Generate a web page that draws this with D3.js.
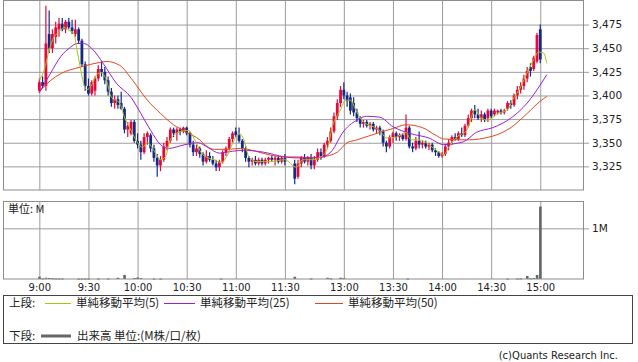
<!DOCTYPE html>
<html>
<head>
<meta charset="utf-8">
<script src="https://cdn.jsdelivr.net/npm/d3@7"></script>
<style>
body { margin: 0; background: #fff; }
text { font-family: "DejaVu Sans", sans-serif; fill: #222; }
.jp { font-family: "Noto Sans CJK JP", sans-serif; }
</style>
</head>
<body>
<svg id="chart" width="638" height="362"></svg>
<script>
// 2-minute candles: time, open, high, low, close
var candles = [
  ["09:00",3405,3418,3403,3414],["09:02",3414,3420,3408,3410],["09:04",3410,3495,3405,3455],
  ["09:06",3465,3490,3445,3450],["09:08",3450,3470,3445,3465],["09:10",3462,3478,3455,3472],
  ["09:12",3470,3482,3462,3476],["09:14",3476,3482,3468,3470],["09:16",3470,3480,3466,3478],
  ["09:18",3478,3482,3470,3472],["09:20",3472,3480,3465,3468],["09:22",3465,3480,3462,3470],
  ["09:24",3470,3472,3455,3458],["09:26",3458,3460,3430,3433],["09:28",3433,3436,3405,3410],
  ["09:30",3410,3418,3400,3402],["09:32",3402,3416,3400,3414],["09:34",3405,3420,3400,3418],
  ["09:36",3418,3432,3415,3428],["09:38",3428,3436,3420,3425],["09:40",3425,3430,3412,3416],
  ["09:42",3416,3420,3400,3404],["09:44",3404,3408,3388,3392],["09:46",3392,3400,3386,3396],
  ["09:48",3396,3400,3386,3390],["09:50",3392,3404,3385,3386],["09:52",3386,3388,3360,3364],
  ["09:54",3364,3372,3356,3368],["09:56",3360,3374,3358,3372],["09:58",3372,3374,3350,3352],
  ["10:00",3352,3360,3344,3348],["10:02",3348,3352,3332,3340],["10:04",3340,3360,3338,3356],
  ["10:06",3356,3362,3348,3360],["10:08",3358,3360,3340,3344],["10:10",3344,3348,3330,3334],
  ["10:12",3334,3338,3314,3326],["10:14",3326,3336,3320,3332],["10:16",3332,3350,3330,3346],
  ["10:18",3346,3356,3342,3352],["10:20",3352,3366,3350,3364],["10:22",3364,3366,3356,3360],
  ["10:24",3360,3366,3352,3364],["10:26",3364,3366,3358,3362],["10:28",3362,3367,3360,3366],
  ["10:30",3366,3367,3358,3360],["10:32",3360,3362,3345,3348],["10:34",3348,3352,3336,3340],
  ["10:36",3340,3348,3336,3344],["10:38",3344,3346,3334,3338],["10:40",3338,3340,3326,3330],
  ["10:42",3330,3342,3328,3336],["10:44",3336,3340,3330,3332],["10:46",3332,3336,3326,3328],
  ["10:48",3328,3332,3320,3324],["10:50",3324,3332,3320,3330],["10:52",3330,3342,3328,3340],
  ["10:54",3340,3346,3336,3344],["10:56",3344,3356,3342,3354],["10:58",3354,3362,3350,3360],
  ["11:00",3362,3366,3356,3358],["11:02",3358,3366,3350,3352],["11:04",3352,3354,3340,3344],
  ["11:06",3344,3346,3330,3334],["11:08",3334,3336,3324,3330],["11:10",3330,3334,3326,3332],
  ["11:12",3332,3336,3326,3328],["11:14",3328,3334,3326,3332],["11:16",3332,3334,3326,3328],
  ["11:18",3328,3334,3326,3332],["11:20",3332,3335,3328,3334],["11:22",3334,3336,3330,3332],
  ["11:24",3332,3336,3326,3334],["11:26",3334,3336,3328,3330],["11:28",3330,3336,3328,3334],
  ["11:30",3334,3338,3326,3330],
  ["12:30",3328,3332,3306,3312],["12:32",3314,3332,3312,3328],["12:34",3328,3336,3324,3334],
  ["12:36",3334,3338,3328,3330],["12:38",3330,3336,3326,3334],["12:40",3334,3338,3322,3326],
  ["12:42",3326,3336,3322,3332],["12:44",3332,3344,3330,3340],["12:46",3340,3344,3332,3336],
  ["12:48",3336,3350,3334,3348],["12:50",3348,3356,3344,3352],["12:52",3352,3366,3350,3362],
  ["12:54",3362,3382,3360,3378],["12:56",3378,3396,3374,3392],["12:58",3392,3410,3388,3406],
  ["13:00",3406,3414,3396,3400],["13:02",3400,3404,3388,3394],["13:04",3398,3402,3380,3384],
  ["13:06",3392,3398,3378,3382],["13:08",3382,3386,3372,3376],["13:10",3376,3378,3366,3370],
  ["13:12",3370,3374,3366,3372],["13:14",3372,3374,3366,3368],["13:16",3368,3372,3364,3370],
  ["13:18",3370,3372,3362,3364],["13:20",3364,3368,3360,3366],["13:22",3366,3368,3358,3362],
  ["13:24",3362,3364,3346,3350],["13:26",3350,3352,3340,3346],["13:28",3346,3358,3344,3356],
  ["13:30",3356,3362,3350,3360],["13:32",3360,3362,3352,3356],["13:34",3356,3360,3352,3358],
  ["13:36",3358,3360,3352,3354],["13:38",3354,3380,3352,3366],["13:40",3366,3368,3344,3346],
  ["13:42",3346,3350,3340,3344],["13:44",3344,3356,3342,3352],["13:46",3352,3362,3344,3348],
  ["13:48",3348,3352,3344,3350],["13:50",3350,3352,3344,3346],["13:52",3346,3350,3342,3348],
  ["13:54",3348,3350,3340,3342],["13:56",3342,3344,3336,3340],["13:58",3340,3341,3334,3336],
  ["14:00",3336,3340,3334,3338],["14:02",3338,3348,3336,3346],["14:04",3346,3354,3342,3350],
  ["14:06",3352,3358,3348,3356],["14:08",3356,3360,3352,3354],["14:10",3354,3362,3352,3360],
  ["14:12",3360,3366,3356,3358],["14:14",3358,3370,3356,3368],["14:16",3368,3380,3366,3376],
  ["14:18",3376,3386,3372,3384],["14:20",3384,3390,3376,3380],["14:22",3380,3386,3374,3376],
  ["14:24",3376,3384,3372,3380],["14:26",3380,3382,3372,3374],["14:28",3376,3386,3372,3384],
  ["14:30",3384,3386,3376,3378],["14:32",3380,3386,3378,3384],["14:34",3382,3385,3380,3384],
  ["14:36",3384,3386,3380,3382],["14:38",3382,3386,3380,3384],["14:40",3386,3394,3384,3392],
  ["14:42",3392,3395,3386,3390],["14:44",3390,3402,3388,3400],["14:46",3400,3410,3396,3406],
  ["14:48",3406,3414,3402,3410],["14:50",3410,3422,3406,3418],["14:52",3418,3430,3414,3426],
  ["14:54",3430,3434,3420,3426],["14:56",3428,3442,3426,3440],["14:58",3436,3466,3434,3464],
  ["15:00",3470,3475,3434,3438]
];

// moving averages: time, price
var ma5 = [
  ["09:00",3416],["09:03",3427],["09:06",3448],["09:09",3462],["09:12",3467],["09:15",3472],
  ["09:18",3469],["09:21",3466],["09:23",3448],["09:25",3430],["09:27",3413],["09:29",3406],
  ["09:32",3411],["09:35",3422],["09:38",3424],["09:41",3416],["09:44",3398],["09:49",3392],
  ["09:52",3377],["09:56",3363],["10:00",3350],["10:03",3345],["10:06",3350],["10:11",3339],
  ["10:14",3332],["10:17",3335],["10:20",3353],["10:25",3361],["10:31",3363],["10:35",3353],
  ["10:39",3339],["10:43",3334],["10:47",3332],["10:51",3329],["10:55",3337],["10:59",3353],
  ["11:02",3360],["11:05",3353],["11:08",3335],["11:13",3330],["11:21",3330],["11:30",3332],
  ["12:31",3324],["12:35",3332],["12:41",3332],["12:45",3334],["12:50",3344],["12:53",3367],
  ["12:58",3385],["13:01",3395],["13:04",3395],["13:08",3382],["13:12",3372],["13:18",3367],
  ["13:22",3363],["13:26",3355],["13:32",3356],["13:38",3361],["13:41",3353],["13:46",3353],
  ["13:52",3348],["13:58",3340],["14:01",3337],["14:04",3345],["14:09",3356],["14:15",3363],
  ["14:17",3372],["14:20",3385],["14:24",3376],["14:28",3374],["14:34",3381],["14:40",3385],
  ["14:43",3395],["14:48",3409],["14:52",3424],["14:56",3438],["14:59",3446],["15:02",3445],
  ["15:04",3434]
];
var ma25 = [
  ["09:00",3403],["09:07",3424],["09:13",3441],["09:19",3451],["09:23",3455],["09:27",3455],
  ["09:33",3448],["09:39",3434],["09:47",3413],["09:56",3398],["10:02",3381],["10:08",3363],
  ["10:14",3348],["10:19",3344],["10:29",3348],["10:37",3350],["10:43",3345],["10:50",3339],
  ["10:58",3341],["11:05",3342],["11:17",3340],["11:30",3335],["12:30",3334],["12:41",3334],
  ["12:47",3335],["12:53",3342],["12:59",3360],["13:08",3374],["13:14",3378],["13:22",3377],
  ["13:30",3367],["13:40",3360],["13:52",3355],["14:01",3348],["14:13",3351],["14:21",3361],
  ["14:31",3366],["14:42",3376],["14:52",3392],["15:04",3422]
];
var ma50 = [
  ["09:00",3404],["09:07",3416],["09:13",3423],["09:25",3430],["09:37",3435],["09:41",3436],
  ["09:49",3432],["09:57",3416],["10:06",3395],["10:14",3381],["10:22",3369],["10:30",3361],
  ["10:38",3353],["10:41",3348],["10:47",3343],["10:55",3343],["11:03",3344],["11:12",3341],
  ["11:21",3337],["11:30",3335],["12:31",3335],["12:41",3334],["12:47",3335],["12:56",3340],
  ["13:02",3350],["13:08",3353],["13:15",3357],["13:22",3361],["13:30",3365],["13:38",3369],
  ["13:48",3366],["13:56",3358],["14:01",3354],["14:15",3353],["14:31",3357],["14:42",3366],
  ["14:52",3381],["15:00",3394],["15:04",3399]
];

// volume in millions: time, value
var volumes = [
  ["09:00",0.045],["09:02",0.012],["09:04",0.025],["09:06",0.02],["09:08",0.015],["09:10",0.01],
  ["09:12",0.012],["09:14",0.01],["09:24",0.008],["09:26",0.008],["09:28",0.008],["09:30",0.008],
  ["09:36",0.01],["09:42",0.01],["09:48",0.025],["09:52",0.08],["09:58",0.02],["10:00",0.03],
  ["10:02",0.02],["10:10",0.008],["10:14",0.008],["10:51",0.008],["12:30",0.045],["12:40",0.01],
  ["12:50",0.025],["12:52",0.012],["12:58",0.025],["13:00",0.02],["13:39",0.008],["14:40",0.008],
  ["14:46",0.01],["14:48",0.012],["14:52",0.06],["14:54",0.015],["14:56",0.02],["14:58",0.08],
  ["15:00",1.43]
];

var timeTicks = ["9:00","9:30","10:00","10:30","11:00","11:30","13:00","13:30","14:00","14:30","15:00"];
var priceTicks = [3325, 3350, 3375, 3400, 3425, 3450, 3475];
var volTicks = [1];

// trading minutes, with the lunch break squeezed to 6 slots
function slot(t) {
  var p = t.split(":"), m = +p[0] * 60 + +p[1];
  return m <= 690 ? m - 540 : m - 594;
}

var svg = d3.select("#chart");
var left = 3, right = 583;
var x = d3.scaleLinear().domain([-22.2, 332.1]).range([left, right]);
var y = d3.scaleLinear().domain([3300, 3501]).range([190, 0]);
var yv = d3.scaleLinear().domain([0, 1.54]).range([279, 201]);
var grid = "#9c9c9c";

// price panel grid
svg.append("g").selectAll("line").data(timeTicks).join("line")
  .attr("x1", d => x(slot(d)) + 0.5).attr("x2", d => x(slot(d)) + 0.5)
  .attr("y1", 0).attr("y2", 190).attr("stroke", grid);
var py = svg.append("g").attr("transform", "translate(589,0)")
  .call(d3.axisRight(y).tickValues(priceTicks).tickFormat(d3.format(",")).tickSize(-586).tickPadding(3));
py.select(".domain").remove();
py.selectAll("line").attr("stroke", grid);
py.selectAll("text").attr("font-size", 10.5).attr("font-family", "DejaVu Sans").attr("fill", "#222");

// volume panel grid
svg.append("g").selectAll("line").data(timeTicks).join("line")
  .attr("x1", d => x(slot(d)) + 0.5).attr("x2", d => x(slot(d)) + 0.5)
  .attr("y1", 201).attr("y2", 279).attr("stroke", grid);
var vy = svg.append("g").attr("transform", "translate(589,0)")
  .call(d3.axisRight(yv).tickValues(volTicks).tickFormat(d => d + "M").tickSize(-586).tickPadding(3));
vy.select(".domain").remove();
vy.selectAll("line").attr("stroke", grid);
vy.selectAll("text").attr("font-size", 10.5).attr("font-family", "DejaVu Sans").attr("fill", "#222");

// time labels
var tx = svg.append("g").attr("transform", "translate(0,279)")
  .call(d3.axisBottom(x).tickValues(timeTicks.map(slot)).tickFormat((d, i) => timeTicks[i]).tickSize(0).tickPadding(5));
tx.select(".domain").remove();
tx.selectAll("text").attr("font-size", 10).attr("font-family", "DejaVu Sans").attr("fill", "#222");

svg.append("defs").append("clipPath").attr("id", "pclip")
  .append("rect").attr("x", left).attr("y", 0).attr("width", right - left).attr("height", 190);

var plot = svg.append("g").attr("clip-path", "url(#pclip)");
var up = "#e8073d", down = "#16298a";
var cw = 2.8;

// candles
var cg = plot.append("g").selectAll("g").data(candles).join("g");
cg.append("line")
  .attr("x1", d => x(slot(d[0]))).attr("x2", d => x(slot(d[0])))
  .attr("y1", d => y(d[2])).attr("y2", d => y(d[3]))
  .attr("stroke", d => d[4] >= d[1] ? up : down).attr("stroke-width", 1.2);
cg.append("rect")
  .attr("x", d => x(slot(d[0])) - cw / 2)
  .attr("width", cw)
  .attr("y", d => y(Math.max(d[1], d[4])))
  .attr("height", d => Math.max(1.2, Math.abs(y(d[1]) - y(d[4]))))
  .attr("fill", d => d[4] >= d[1] ? up : down);

// moving averages
var line = d3.line().x(d => x(slot(d[0]))).y(d => y(d[1])).curve(d3.curveMonotoneX);
[[ma50, "#e2461a"], [ma25, "#9b1fd0"], [ma5, "#a9c40a"]].forEach(function(s) {
  plot.append("path").datum(s[0]).attr("d", line)
    .attr("fill", "none").attr("stroke", s[1]).attr("stroke-width", 1);
});

// volume bars
svg.append("g").selectAll("rect").data(volumes).join("rect")
  .attr("x", d => x(slot(d[0])) - 1.2)
  .attr("width", 2.6)
  .attr("y", d => yv(d[1]))
  .attr("height", d => Math.max(1, yv(0) - yv(d[1])))
  .attr("fill", "#666");

// panel borders
svg.append("rect").attr("x", left + 0.5).attr("y", 0.5).attr("width", right - left).attr("height", 189.5)
  .attr("fill", "none").attr("stroke", "#8c8c8c");
svg.append("rect").attr("x", left + 0.5).attr("y", 201.5).attr("width", right - left).attr("height", 77.5)
  .attr("fill", "none").attr("stroke", "#8c8c8c");
svg.append("text").attr("class", "jp").attr("x", 8).attr("y", 213).attr("font-size", 11).text("単位: M");

// legend
var lg = svg.append("g");
lg.append("rect").attr("x", 3.5).attr("y", 295.5).attr("width", 629).attr("height", 48)
  .attr("fill", "none").attr("stroke", "#444");
var r1 = 303, r2 = 336;
var fs = 11.5;
lg.append("text").attr("class", "jp").attr("x", 9).attr("y", r1 + 4).attr("font-size", fs).text("上段:");
var items = [
  [45, 71, "#a9c40a", "単純移動平均(5)"],
  [164, 195, "#9b1fd0", "単純移動平均(25)"],
  [315, 343, "#e2461a", "単純移動平均(50)"]
];
items.forEach(function(it) {
  lg.append("line").attr("x1", it[0]).attr("x2", it[1]).attr("y1", r1 + 0.5).attr("y2", r1 + 0.5)
    .attr("stroke", it[2]).attr("stroke-width", 1);
  lg.append("text").attr("class", "jp").attr("x", it[1] + 5).attr("y", r1 + 4).attr("font-size", fs).text(it[3]);
});
lg.append("text").attr("class", "jp").attr("x", 9).attr("y", r2 + 4).attr("font-size", fs).text("下段:");
lg.append("line").attr("x1", 41).attr("x2", 71).attr("y1", r2).attr("y2", r2)
  .attr("stroke", "#666").attr("stroke-width", 3);
lg.append("text").attr("class", "jp").attr("x", 77).attr("y", r2 + 4).attr("font-size", fs).text("出来高 単位:(M株/口/枚)");

svg.append("text").attr("x", 618).attr("y", 359).attr("text-anchor", "end")
  .attr("font-size", 10).attr("font-family", "Open Sans").attr("fill", "#444")
  .text("(c)Quants Research Inc.");
</script>
</body>
</html>
